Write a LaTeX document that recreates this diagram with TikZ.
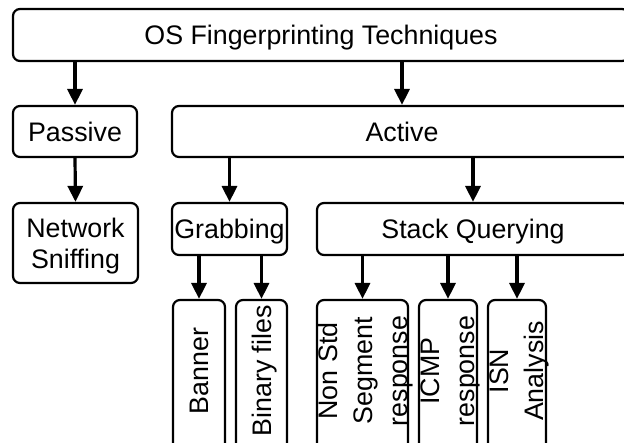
\documentclass[tikz,border=0pt]{standalone}
\usepackage{fontspec}
\setmainfont{Liberation Sans}
\usetikzlibrary{arrows.meta}

\begin{document}
\begin{tikzpicture}[x=1pt,y=-1pt,
    box/.style={draw,line width=2.2pt,rounded corners=7pt,inner sep=2pt,align=center,text depth=0pt,font=\fontsize{26.8}{31}\selectfont},
    vbox/.style={draw,line width=2.2pt,rounded corners=7pt,inner sep=0pt,minimum height=150pt},
    vlabel/.style={rotate=90,inner sep=0pt,align=center,text depth=0pt,font=\fontsize{26.8}{35}\selectfont},
    arr/.style={line width=3.2pt,-{Triangle[width=15pt,length=16pt]}}]

    \useasboundingbox (0,0) rectangle (624,442);
    \fill[white] (0,0) rectangle (624,442);
    \clip (0,0) rectangle (624,442);

    % the wide boxes run on past the right edge
    \node[box,minimum width=616pt,minimum height=52pt] (os) at (321,35) {OS Fingerprinting Techniques};
    \node[box,minimum width=124pt,minimum height=51pt] (passive) at (75,131.5) {Passive};
    \node[box,minimum width=460pt,minimum height=51pt] (active) at (402,131.5) {Active};
    \node[box,minimum width=125pt,minimum height=80pt] (sniff) at (75.5,243) {Network\\Sniffing};
    \node[box,minimum width=115pt,minimum height=52pt] (grab) at (229.5,229) {Grabbing};
    \node[box,minimum width=312pt,minimum height=52pt] (stack) at (473,229) {Stack Querying};

    % leaves, cut off at the bottom
    \node[vbox,minimum width=52pt] (banner) at (199,375) {};
    \node[vlabel] (bannertxt) at ([yshift=4pt]banner.center) {Banner};
    \node[vbox,minimum width=51pt] (binary) at (261.5,375) {};
    \node[vlabel] (binarytxt) at ([yshift=4pt]binary.center) {Binary files};
    \node[vbox,minimum width=91pt] (nonstd) at (362.5,375) {};
    \node[vlabel] (nonstdtxt) at ([yshift=4pt]nonstd.center) {Non Std\\Segment\\response};
    \node[vbox,minimum width=58pt] (icmp) at (448,375) {};
    \node[vlabel] (icmptxt) at ([yshift=4pt]icmp.center) {ICMP\\response};
    \node[vbox,minimum width=58pt] (isn) at (517,375) {};
    \node[vlabel] (isntxt) at ([yshift=4pt]isn.center) {ISN\\Analysis};

    \draw[arr] (os.south -| passive.north) -- (passive.north);
    \draw[arr] (os.south -| active.north) -- (active.north);
    \draw[arr] (passive.south) -- (sniff.north);
    \draw[arr] (active.south -| grab.north) -- (grab.north);
    \draw[arr] (active.south -| stack.north) -- (stack.north);
    \draw[arr] (grab.south -| banner.north) -- (banner.north);
    \draw[arr] (grab.south -| binary.north) -- (binary.north);
    \draw[arr] (stack.south -| nonstd.north) -- (nonstd.north);
    \draw[arr] (stack.south -| icmp.north) -- (icmp.north);
    \draw[arr] (stack.south -| isn.north) -- (isn.north);
\end{tikzpicture}
\end{document}
